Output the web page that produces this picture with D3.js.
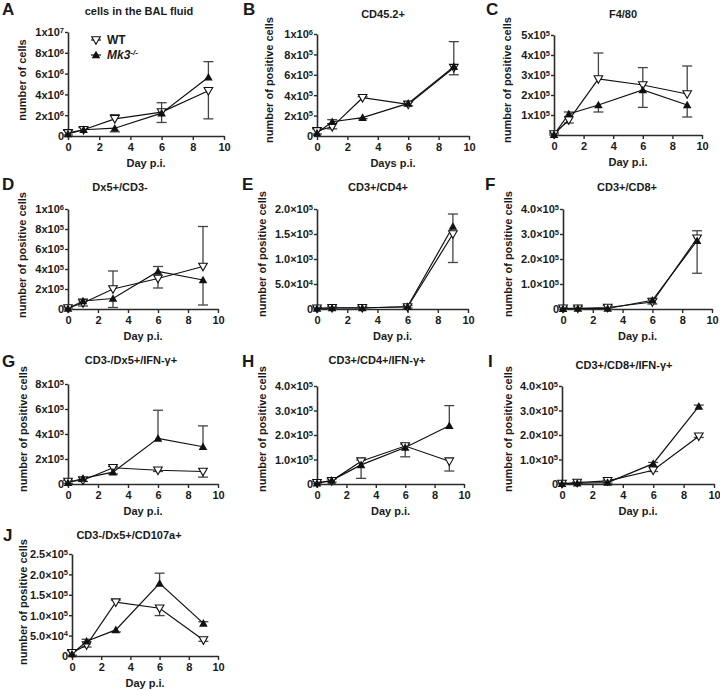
<!DOCTYPE html>
<html><head><meta charset="utf-8">
<script src="https://cdn.jsdelivr.net/npm/d3@7"></script>
<style>
body{margin:0;background:#fff}
text{font-family:"Liberation Sans",Arial,sans-serif;font-weight:bold;fill:#1a1a1a}
</style>
</head><body>
<svg id="chart" width="720" height="690"></svg>
<script>
// ---------------- DATA ----------------
const days = [0, 1, 3, 6, 9];
const xTicks = [0, 2, 4, 6, 8, 10];
const seriesNames = ["WT", "Mk3"];

const panelLetters = ["A","B","C","D","E","F","G","H","I","J"];
const panelTitles = ["cells in the BAL fluid","CD45.2+","F4/80","Dx5+/CD3-","CD3+/CD4+","CD3+/CD8+",
  "CD3-/Dx5+/IFN-\u03b3+","CD3+/CD4+/IFN-\u03b3+","CD3+/CD8+/IFN-\u03b3+","CD3-/Dx5+/CD107a+"];
const yTitles = ["number of cells","number of positive cells","number of positive cells","number of positive cells",
  "number of positive cells","number of positive cells","number of positive cells","number of positive cells",
  "number of positive cells","number of positive cells"];
const xTitles = ["Day p.i.","Days p.i.","Day p.i.","Day p.i.","Day p.i.","Day p.i.","Day p.i.","Day p.i.","Day p.i.","Day p.i."];

const yTicksA = [0, 2e6, 4e6, 6e6, 8e6, 1e7];
const yTicksB = [0, 2e5, 4e5, 6e5, 8e5, 1e6];
const yTicksC = [1e5, 2e5, 3e5, 4e5, 5e5];
const yTicksD = [0, 2e5, 4e5, 6e5, 8e5, 1e6];
const yTicksE = [0, 5e4, 1e5, 1.5e5, 2e5];
const yTicksF = [0, 1e5, 2e5, 3e5, 4e5];
const yTicksG = [0, 2e5, 4e5, 6e5, 8e5];
const yTicksH = [0, 1e5, 2e5, 3e5, 4e5];
const yTicksI = [0, 1e5, 2e5, 3e5, 4e5];
const yTicksJ = [0, 5e4, 1e5, 1.5e5, 2e5, 2.5e5];
const tickStyles = ["x","x","x","x","dot","dot","x","dot","dot","dot"];

const wtA = [0.3e6, 0.6e6, 1.65e6, 2.3e6, 4.35e6];
const mkA = [0.2e6, 0.6e6, 0.75e6, 2.2e6, 5.65e6];
const wtErrA = [0.25e6, 0.25e6, 0.4e6, 0.9e6, 2.7e6];
const mkErrA = [0.1e6, 0.2e6, 0.35e6, 0.9e6, 1.5e6];

const wtB = [0.5e5, 0.9e5, 3.75e5, 3.1e5, 6.7e5];
const mkB = [0.3e5, 1.4e5, 1.8e5, 3.2e5, 6.8e5];
const wtErrB = [0.2e5, 0.2e5, 0.1e5, 0.15e5, 0.7e5];
const mkErrB = [0.1e5, 0.2e5, 0.1e5, 0.15e5, 2.45e5];

const wtC = [0.05e5, 0.75e5, 2.8e5, 2.5e5, 2.05e5];
const mkC = [0.02e5, 1.05e5, 1.5e5, 2.25e5, 1.5e5];
const wtErrC = [0.05e5, 0.15e5, 1.3e5, 0.87e5, 1.4e5];
const mkErrC = [0.02e5, 0.1e5, 0.35e5, 0.87e5, 0.6e5];

const wtD = [0.1e5, 0.6e5, 2.0e5, 3.05e5, 4.25e5];
const mkD = [0.05e5, 0.8e5, 1.05e5, 3.75e5, 2.9e5];
const wtErrD = [0.1e5, 0.3e5, 1.8e5, 0.95e5, 4.0e5];
const mkErrD = [0.05e5, 0.2e5, 0.9e5, 0.5e5, 2.5e5];

const wtE = [1.5e3, 2.5e3, 2.5e3, 4e3, 1.5e5];
const mkE = [1e3, 2e3, 2e3, 5e3, 1.65e5];
const wtErrE = [2e3, 3e3, 3e3, 2e3, 0.57e5];
const mkErrE = [1e3, 2e3, 2e3, 2e3, 0.25e5];

const wtF = [3e3, 3e3, 6e3, 2.8e4, 2.83e5];
const mkF = [1e3, 2e3, 2e3, 3.5e4, 2.73e5];
const wtErrF = [4e3, 6e3, 8e3, 8e3, 0.3e5];
const mkErrF = [2e3, 3e3, 3e3, 8e3, 1.3e5];

const wtG = [0.2e5, 0.3e5, 1.3e5, 1.1e5, 1.0e5];
const mkG = [0.1e5, 0.45e5, 0.95e5, 3.65e5, 2.98e5];
const wtErrG = [0.1e5, 0.1e5, 0.1e5, 0.1e5, 0.45e5];
const mkErrG = [0.05e5, 0.1e5, 0.15e5, 2.25e5, 1.67e5];

const wtH = [0.05e5, 0.13e5, 0.93e5, 1.55e5, 0.93e5];
const mkH = [0.03e5, 0.15e5, 0.78e5, 1.49e5, 2.38e5];
const wtErrH = [0.05e5, 0.05e5, 0.05e5, 0.08e5, 0.4e5];
const mkErrH = [0.02e5, 0.05e5, 0.55e5, 0.38e5, 0.82e5];

const wtI = [0.02e5, 0.06e5, 0.13e5, 0.56e5, 1.95e5];
const mkI = [0.01e5, 0.03e5, 0.06e5, 0.83e5, 3.17e5];
const wtErrI = [0.02e5, 0.02e5, 0.03e5, 0.05e5, 0.05e5];
const mkErrI = [0.01e5, 0.01e5, 0.02e5, 0.05e5, 0.05e5];

const wtJ = [0.08e5, 0.27e5, 1.32e5, 1.17e5, 0.39e5];
const mkJ = [0.05e5, 0.36e5, 0.64e5, 1.78e5, 0.8e5];
const wtErrJ = [0.05e5, 0.05e5, 0.05e5, 0.18e5, 0.03e5];
const mkErrJ = [0.03e5, 0.05e5, 0.05e5, 0.25e5, 0.04e5];

// ---------------- LAYOUT ----------------
// x0/x1: x-axis pixel range, yB/yT: y-axis pixel range, ytx/yty: y title center, tx/ty: title, lx/ly: letter
const layout = [
  {x0:68, x1:224, yB:136, yT:32, ytx:22, yty:80, tx:139, ty:15, lx:2, ly:15},
  {x0:317,x1:469, yB:136, yT:34, ytx:269,yty:80, tx:383, ty:18, lx:243,ly:15},
  {x0:554,x1:702, yB:135, yT:35, ytx:507,yty:80, tx:623, ty:18, lx:486,ly:15},
  {x0:68, x1:218, yB:309, yT:209,ytx:22, yty:255,tx:120, ty:191,lx:2, ly:190},
  {x0:317,x1:468, yB:309, yT:209,ytx:262,yty:254,tx:378, ty:191,lx:242,ly:190},
  {x0:563,x1:712, yB:309, yT:209,ytx:508,yty:254,tx:627, ty:191,lx:485,ly:190},
  {x0:68, x1:218, yB:484, yT:384,ytx:23, yty:429,tx:131, ty:364,lx:2, ly:367},
  {x0:317,x1:464, yB:484, yT:386,ytx:262,yty:429,tx:377, ty:364,lx:242,ly:367},
  {x0:562,x1:714, yB:484, yT:386,ytx:508,yty:429,tx:624, ty:369,lx:488,ly:367},
  {x0:72, x1:218, yB:656, yT:554,ytx:23, yty:602,tx:129, ty:539,lx:3, ly:541}
];

const panels = [
  {ticks:yTicksA, wt:wtA, mk:mkA, wtErr:wtErrA, mkErr:mkErrA},
  {ticks:yTicksB, wt:wtB, mk:mkB, wtErr:wtErrB, mkErr:mkErrB},
  {ticks:yTicksC, wt:wtC, mk:mkC, wtErr:wtErrC, mkErr:mkErrC},
  {ticks:yTicksD, wt:wtD, mk:mkD, wtErr:wtErrD, mkErr:mkErrD},
  {ticks:yTicksE, wt:wtE, mk:mkE, wtErr:wtErrE, mkErr:mkErrE},
  {ticks:yTicksF, wt:wtF, mk:mkF, wtErr:wtErrF, mkErr:mkErrF},
  {ticks:yTicksG, wt:wtG, mk:mkG, wtErr:wtErrG, mkErr:mkErrG},
  {ticks:yTicksH, wt:wtH, mk:mkH, wtErr:wtErrH, mkErr:mkErrH},
  {ticks:yTicksI, wt:wtI, mk:mkI, wtErr:wtErrI, mkErr:mkErrI},
  {ticks:yTicksJ, wt:wtJ, mk:mkJ, wtErr:wtErrJ, mkErr:mkErrJ}
];

const AX = "#2b2b2b", LINE = "#111", ERR = "#444";
const triUp = "M0,-4.3L4.3,3.3L-4.3,3.3Z";
const triDown = "M0,4.3L4.3,-3.3L-4.3,-3.3Z";

const svg = d3.select("#chart");

function tickLabel(v, style) {
  if (v === 0) return {m: "0", e: null};
  const e = Math.floor(Math.log10(v) + 1e-9);
  const m = v / Math.pow(10, e);
  return style === "dot" ? {m: m.toFixed(1) + "\u00d710", e: e} : {m: Math.round(m) + "x10", e: e};
}

panels.forEach((P, i) => {
  const L = layout[i];
  const g = svg.append("g");
  const yMax = P.ticks[P.ticks.length - 1];
  const x = d3.scaleLinear().domain([0, 10]).range([L.x0, L.x1]);
  const y = d3.scaleLinear().domain([0, yMax]).range([L.yB, L.yT]);

  // x axis
  const xa = g.append("g").attr("transform", `translate(0,${L.yB})`)
    .call(d3.axisBottom(x).tickValues(xTicks).tickSize(4).tickSizeOuter(0).tickPadding(3));
  xa.select(".domain").attr("stroke", AX).attr("stroke-width", 1.6);
  xa.selectAll(".tick line").attr("stroke", AX).attr("stroke-width", 1.4);
  xa.selectAll(".tick text").attr("font-size", 11).attr("font-family", null).attr("fill", "#1a1a1a");
  xa.attr("font-family", null).attr("font-size", null);

  // y axis
  const ya = g.append("g").attr("transform", `translate(${L.x0},0)`)
    .call(d3.axisLeft(y).tickValues(P.ticks).tickSize(3).tickSizeOuter(0).tickFormat(""));
  ya.select(".domain").attr("stroke", AX).attr("stroke-width", 1.6);
  ya.selectAll(".tick line").attr("stroke", AX).attr("stroke-width", 1.4);
  ya.attr("font-family", null).attr("font-size", null);
  ya.selectAll(".tick").each(function(d) {
    const lab = tickLabel(d, tickStyles[i]);
    const t = d3.select(this).append("text").attr("x", -4).attr("dy", "0.36em")
      .attr("text-anchor", "end").attr("font-size", 11);
    t.append("tspan").text(lab.m);
    if (lab.e !== null) t.append("tspan").attr("dy", "-0.5em").attr("font-size", 7.5).text(lab.e);
  });

  // titles
  g.append("text").attr("x", L.tx).attr("y", L.ty).attr("text-anchor", "middle").attr("font-size", 11).text(panelTitles[i]);
  g.append("text").attr("x", L.lx).attr("y", L.ly).attr("font-size", 17).text(panelLetters[i]);
  g.append("text").attr("transform", `translate(${L.ytx},${L.yty}) rotate(-90)`)
    .attr("text-anchor", "middle").attr("dy", "0.35em").attr("font-size", 11).text(yTitles[i]);
  g.append("text").attr("x", (L.x0 + L.x1) / 2).attr("y", L.yB + 30.5).attr("text-anchor", "middle")
    .attr("font-size", 11).text(xTitles[i]);

  // error bars (drawn away from the other group)
  const series = [
    {vals: P.wt, err: P.wtErr, other: P.mk},
    {vals: P.mk, err: P.mkErr, other: P.wt}
  ];
  series.forEach(s => {
    days.forEach((d, k) => {
      const v = s.vals[k], dir = v >= s.other[k] ? 1 : -1;
      const end = v + dir * s.err[k];
      const cx = x(d);
      g.append("line").attr("x1", cx).attr("x2", cx).attr("y1", y(v)).attr("y2", y(end))
        .attr("stroke", ERR).attr("stroke-width", 1.3);
      g.append("line").attr("x1", cx - 5).attr("x2", cx + 5).attr("y1", y(end)).attr("y2", y(end))
        .attr("stroke", ERR).attr("stroke-width", 1.3);
    });
  });

  // lines
  const line = d3.line().x((v, k) => x(days[k])).y(v => y(v));
  g.append("path").datum(P.wt).attr("d", line).attr("fill", "none").attr("stroke", LINE).attr("stroke-width", 1.2);
  g.append("path").datum(P.mk).attr("d", line).attr("fill", "none").attr("stroke", LINE).attr("stroke-width", 1.2);

  // markers
  g.selectAll(".wt").data(P.wt).join("path").attr("d", triDown)
    .attr("transform", (v, k) => `translate(${x(days[k])},${y(v)})`)
    .attr("fill", "#fff").attr("stroke", LINE).attr("stroke-width", 1.1);
  g.selectAll(".mk").data(P.mk).join("path").attr("d", triUp)
    .attr("transform", (v, k) => `translate(${x(days[k])},${y(v)})`)
    .attr("fill", LINE);

  // legend in panel A
  if (i === 0) {
    const lg = g.append("g");
    [0, 1].forEach(j => {
      const ly = 40 + j * 15;
      lg.append("line").attr("x1", 91).attr("x2", 101).attr("y1", ly).attr("y2", ly)
        .attr("stroke", LINE).attr("stroke-width", 1.2);
      lg.append("path").attr("d", j === 0 ? triDown : triUp).attr("transform", `translate(96,${ly})`)
        .attr("fill", j === 0 ? "#fff" : LINE).attr("stroke", LINE).attr("stroke-width", j === 0 ? 1.1 : 0);
      const t = lg.append("text").attr("x", 107).attr("y", ly + 4).attr("font-size", 12);
      if (j === 0) t.text(seriesNames[0]);
      else {
        t.append("tspan").attr("font-style", "italic").text(seriesNames[1]);
        t.append("tspan").attr("font-style", "italic").attr("dy", "-0.5em").attr("font-size", 8).text("-/-");
      }
    });
  }
});
</script>
</body></html>
